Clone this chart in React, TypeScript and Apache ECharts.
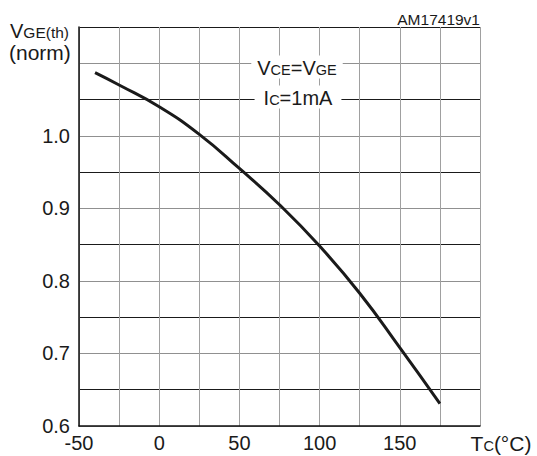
import React, { useEffect, useRef } from "react";
import * as echarts from "echarts";

const temperatures = [-40, -25, 0, 25, 50, 75, 100, 125, 150, 175];
const vgeNorm = [1.087, 1.07, 1.04, 1.002, 0.955, 0.905, 0.848, 0.783, 0.708, 0.631];
const xTickLabels = ["-50", "0", "50", "100", "150"];
const yTickLabels = ["0.6", "0.7", "0.8", "0.9", "1.0"];

const FONT = "'Liberation Sans', Arial, sans-serif";
const INK = "#1a1a1a";

const big = { fontSize: 20, fontFamily: FONT, fill: INK, verticalAlign: "bottom", lineHeight: 21 };
const small = { fontSize: 14.5, fontFamily: FONT, fill: INK, verticalAlign: "bottom", lineHeight: 21 };

export default function App() {
  const ref = useRef<HTMLDivElement>(null);
  useEffect(() => {
    if (!ref.current) return;
    const chart = echarts.init(ref.current, null, { renderer: "svg" });
    const data = temperatures.map((t, i) => [t, vgeNorm[i]]);
    chart.setOption({
      animation: false,
      backgroundColor: "#fff",
      textStyle: { fontFamily: FONT },
      grid: { left: 79, right: 57, top: 27, bottom: 30, containLabel: false },
      xAxis: {
        type: "value",
        min: -50,
        max: 200,
        interval: 25,
        axisLine: { show: true, onZero: false, lineStyle: { color: "#111", width: 1.5 } },
        axisTick: { show: false },
        axisLabel: {
          color: INK,
          fontSize: 20,
          fontFamily: FONT,
          margin: 7,
          formatter: (v: number) => {
            const s = String(Math.round(v));
            return xTickLabels.includes(s) ? s : "";
          },
        },
        splitLine: { show: true, lineStyle: { color: "#a0a0a0", width: 1 } },
      },
      yAxis: {
        type: "value",
        min: 0.6,
        max: 1.15,
        interval: 0.05,
        axisLine: { show: true, onZero: false, lineStyle: { color: "#111", width: 1.5 } },
        axisTick: { show: false },
        axisLabel: {
          color: INK,
          fontSize: 20,
          fontFamily: FONT,
          margin: 9,
          formatter: (v: number) => {
            const s1 = (Math.round(v * 10) / 10).toFixed(1);
            if (Math.abs(v * 10 - Math.round(v * 10)) < 1e-6 && yTickLabels.includes(s1)) return s1;
            return "";
          },
        },
        splitLine: {
          show: true,
          showMinLine: true,
          showMaxLine: true,
          lineStyle: { color: ["#909090", "#1a1a1a"], width: 1 },
        },
      },
      series: [
        {
          type: "line",
          data,
          smooth: 0.5,
          showSymbol: false,
          lineStyle: { color: "#1a1a1a", width: 3 },
          z: 5,
        },
      ],
      graphic: [
        {
          type: "text",
          z: 100,
          x: 297,
          y: 67,
          style: {
            text: "{a|V}{b|CE}{a|=V}{b|GE}",
            align: "center",
            verticalAlign: "middle",
            backgroundColor: "#fff",
            padding: [1, 6],
            rich: { a: big, b: small },
          },
        },
        {
          type: "text",
          z: 100,
          x: 298,
          y: 97,
          style: {
            text: "{a|I}{b|C}{a|=1mA}",
            align: "center",
            verticalAlign: "middle",
            backgroundColor: "#fff",
            padding: [1, 9],
            rich: { a: big, b: small },
          },
        },
        {
          type: "text",
          z: 100,
          x: 480,
          y: 19.5,
          style: {
            text: "AM17419v1",
            align: "right",
            verticalAlign: "middle",
            fontSize: 15.5,
            fontFamily: FONT,
            fill: INK,
          },
        },
        {
          type: "text",
          z: 100,
          x: 10,
          y: 30,
          style: {
            text: "{a|V}{b|GE(th)}",
            align: "left",
            verticalAlign: "middle",
            rich: { a: big, b: { ...small, fontSize: 15.5 } },
          },
        },
        {
          type: "text",
          z: 100,
          x: 9,
          y: 52,
          style: {
            text: "(norm)",
            align: "left",
            verticalAlign: "middle",
            fontSize: 21,
            fontFamily: FONT,
            fill: INK,
          },
        },
        {
          type: "text",
          z: 100,
          x: 501,
          y: 443,
          style: {
            text: "{a|T}{b|C}{a|(°C)}",
            align: "center",
            verticalAlign: "middle",
            rich: { a: { ...big, fontSize: 21 }, b: small },
          },
        },
      ],
    });
    return () => chart.dispose();
  }, []);
  return (
    <div
      ref={ref}
      style={{ position: "fixed", left: 0, top: 0, width: 537, height: 456, background: "#fff" }}
    />
  );
}
